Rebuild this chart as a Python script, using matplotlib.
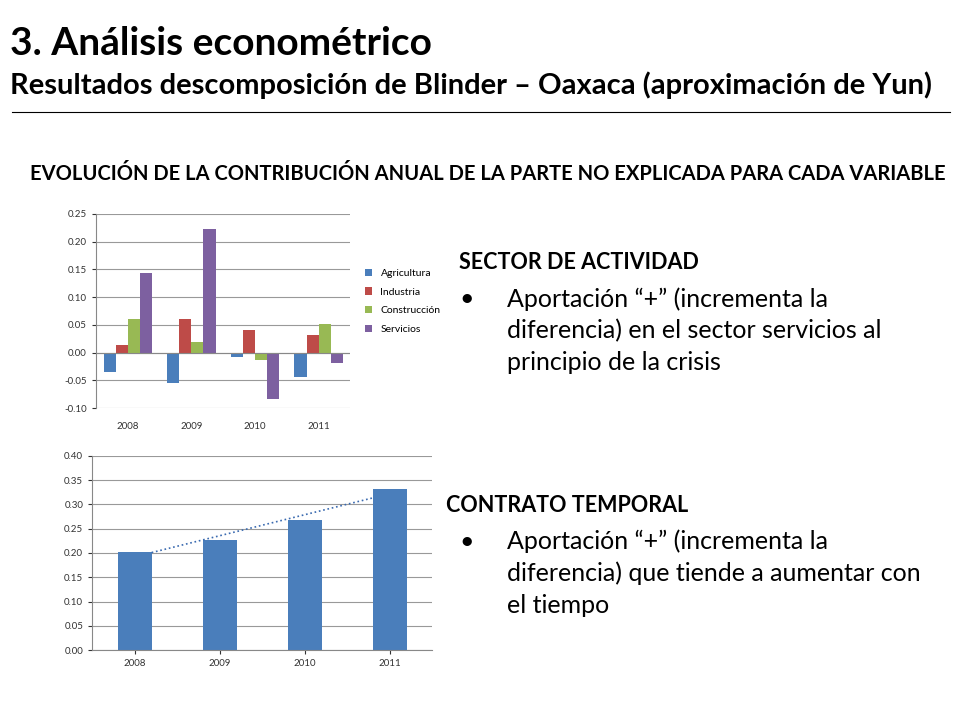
import matplotlib
matplotlib.use("Agg")
import matplotlib.pyplot as plt
import numpy as np

years = ["2008", "2009", "2010", "2011"]
agricultura = [-0.035, -0.054, -0.007, -0.044]
industria = [0.013, 0.060, 0.041, 0.032]
construccion = [0.060, 0.020, -0.013, 0.051]
servicios = [0.143, 0.223, -0.083, -0.019]
series_names = ["Agricultura", "Industria", "Construcción", "Servicios"]
series_colors = ["#4a7ebb", "#be4b48", "#98b954", "#7d60a0"]
temporal = [0.202, 0.226, 0.268, 0.332]

plt.rcParams["font.family"] = "Lato"
fig = plt.figure(figsize=(9.6, 7.2), dpi=100)

fig.text(0.01, 0.94, "3. Análisis econométrico", fontsize=28, weight="bold", va="center")
fig.text(0.01, 0.882, "Resultados descomposición de Blinder – Oaxaca (aproximación de Yun)",
         fontsize=21, weight="bold", va="center")
fig.add_artist(plt.Line2D([0.012, 0.99], [0.845, 0.845], color="black", lw=0.8))
fig.text(0.508, 0.758, "EVOLUCIÓN DE LA CONTRIBUCIÓN ANUAL DE LA PARTE NO EXPLICADA PARA CADA VARIABLE",
         fontsize=14.5, weight="bold", ha="center", va="center")

def style(ax):
    for s in ["top", "right"]:
        ax.spines[s].set_visible(False)
    ax.spines["left"].set_color("#888888")
    ax.spines["bottom"].set_color("#888888")
    ax.yaxis.grid(True, color="#999999", lw=0.8)
    ax.set_axisbelow(True)
    ax.tick_params(labelsize=7, length=3, colors="#333333")

ax1 = fig.add_axes([0.1, 0.433, 0.265, 0.27])
x = np.arange(len(years))
w = 0.19
for i, (vals, name, c) in enumerate(zip([agricultura, industria, construccion, servicios], series_names, series_colors)):
    ax1.bar(x + (i - 1.5) * w, vals, w, color=c, label=name)
ax1.set_ylim(-0.10, 0.25)
ax1.set_yticks(np.arange(-0.10, 0.2501, 0.05))
ax1.set_yticklabels([f"{v:.2f}" for v in np.arange(-0.10, 0.2501, 0.05)])
ax1.set_xlim(-0.5, 3.5)
ax1.set_xticks(x)
ax1.set_xticklabels(years)
style(ax1)
ax1.spines["bottom"].set_visible(False)
ax1.axhline(0, color="#888888", lw=0.8)
ax1.tick_params(axis="x", length=0, pad=10)
ax1.legend(loc="center left", bbox_to_anchor=(1.02, 0.55), frameon=False, fontsize=7.5,
           handlelength=0.7, handleheight=0.7, labelspacing=0.9)

ax2 = fig.add_axes([0.096, 0.097, 0.354, 0.27])
ax2.bar(x, temporal, 0.4, color="#4a7ebb")
coef = np.polyfit(x, temporal, 1)
xt = np.array([0.2, 2.8])
ax2.plot(xt, np.polyval(coef, xt), ls=":", color="#3a6ab0", lw=1.2)
ax2.set_ylim(0, 0.40)
ax2.set_yticks(np.arange(0, 0.401, 0.05))
ax2.set_yticklabels([f"{v:.2f}" for v in np.arange(0, 0.401, 0.05)])
ax2.set_xlim(-0.5, 3.5)
ax2.set_xticks(x)
ax2.set_xticklabels(years)
style(ax2)

fs = 18
fig.text(0.478, 0.636, "SECTOR DE ACTIVIDAD", fontsize=15.5, weight="bold", va="center")
fig.text(0.478, 0.585, "•", fontsize=fs, va="center")
for j, line in enumerate(["Aportación “+” (incrementa la", "diferencia) en el sector servicios al",
                          "principio de la crisis"]):
    fig.text(0.528, 0.585 - j * 0.0445, line, fontsize=fs, va="center")
fig.text(0.465, 0.298, "CONTRATO TEMPORAL", fontsize=15.5, weight="bold", va="center")
fig.text(0.478, 0.248, "•", fontsize=fs, va="center")
for j, line in enumerate(["Aportación “+” (incrementa la", "diferencia) que tiende a aumentar con",
                          "el tiempo"]):
    fig.text(0.528, 0.248 - j * 0.0445, line, fontsize=fs, va="center")

fig.savefig("out.png", dpi=100)
